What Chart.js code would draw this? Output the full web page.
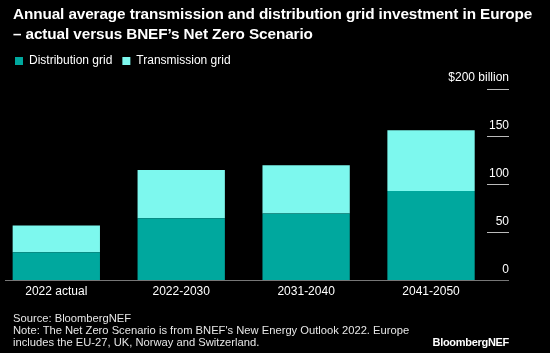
<!DOCTYPE html>
<html>
<head>
<meta charset="utf-8">
<script src="https://cdn.jsdelivr.net/npm/chart.js@4"></script>
<style>
  html, body { margin: 0; padding: 0; background: #000; }
  #wrap { position: relative; width: 550px; height: 353px; background: #000; font-family: "Liberation Sans", Arial, sans-serif; color: #fff; overflow: hidden; }
  #title { position: absolute; left: 13px; top: 4px; font-weight: bold; font-size: 15.3px; line-height: 19.5px; letter-spacing: -0.1px; }
  #foot { position: absolute; left: 13px; top: 313px; font-size: 11.2px; line-height: 11.8px; color: #e6e6e6; }
  #logo { position: absolute; right: 41px; top: 336px; font-size: 11px; font-weight: bold; letter-spacing: -0.3px; }
  canvas { position: absolute; left: 0; top: 0; }
</style>
</head>
<body>
<div id="wrap">
  <canvas id="myChart" width="550" height="353"></canvas>
  <div id="title">Annual average transmission and distribution grid investment in Europe<br>– actual versus BNEF’s Net Zero Scenario</div>
  <div id="foot">Source: BloombergNEF<br>Note: The Net Zero Scenario is from BNEF's New Energy Outlook 2022. Europe<br>includes the EU-27, UK, Norway and Switzerland.</div>
  <div id="logo">BloombergNEF</div>
</div>
<script>
/* data */
var categories = ['2022 actual', '2022-2030', '2031-2040', '2041-2050'];
var distribution = [29.5, 65, 70, 93.5];
var transmission = [28, 50.5, 50.5, 63.5];
var yTicks = [0, 50, 100, 150, 200];

// extra room under the legend
var legendGap = {
  id: 'legendGap',
  beforeInit: function (chart) {
    var fit = chart.legend.fit;
    chart.legend.fit = function () {
      fit.bind(chart.legend)();
      this.height += 12;
    };
  }
};

var ctx = document.getElementById('myChart');

new Chart(ctx, {
  type: 'bar',
  data: {
    datasets: [{
      label: 'Distribution grid',
      backgroundColor: '#00a89e',
      data: distribution.map(function (v, i) { return {x: i, y: v}; }),
      barPercentage: 0.699,
      categoryPercentage: 1
    }, {
      label: 'Transmission grid',
      backgroundColor: '#7df8ee',
      data: transmission.map(function (v, i) { return {x: i, y: v}; }),
      barPercentage: 0.699,
      categoryPercentage: 1
    }]
  },
  plugins: [legendGap],
  options: {
    responsive: false,
    animation: false,
    layout: {
      padding: {top: 45, left: 5, right: -3, bottom: 50}
    },
    plugins: {
      tooltip: {enabled: false},
      legend: {
        align: 'start',
        labels: {
          color: '#ffffff',
          boxWidth: 8,
          boxHeight: 8,
          padding: 10,
          font: {family: 'Liberation Sans', size: 12}
        }
      }
    },
    scales: {
      x: {
        type: 'linear',
        stacked: true,
        offset: false,
        min: -0.4107,
        max: 3.448,
        afterBuildTicks: function (scale) {
          scale.ticks = categories.map(function (c, i) { return {value: i}; });
        },
        ticks: {
          color: '#ffffff',
          padding: 4,
          maxRotation: 0,
          autoSkip: false,
          font: {family: 'Liberation Sans', size: 12},
          callback: function (value) { return categories[value]; }
        },
        grid: {display: false, drawTicks: false, offset: false},
        border: {display: true, color: '#777777', width: 1}
      },
      y: {
        position: 'right',
        stacked: true,
        min: 0,
        max: 200,
        afterBuildTicks: function (scale) {
          scale.ticks = yTicks.map(function (v) { return {value: v}; });
        },
        ticks: {
          color: '#ffffff',
          mirror: true,
          padding: 22,
          labelOffset: -11,
          font: {family: 'Liberation Sans', size: 12},
          callback: function (value) { return value === 200 ? '$200 billion' : value; }
        },
        grid: {
          drawOnChartArea: false,
          drawTicks: true,
          tickLength: 22,
          color: function (c) { return c.tick && c.tick.value === 0 ? '#777777' : '#bbbbbb'; }
        },
        border: {display: false}
      }
    }
  }
});
</script>
</body>
</html>
